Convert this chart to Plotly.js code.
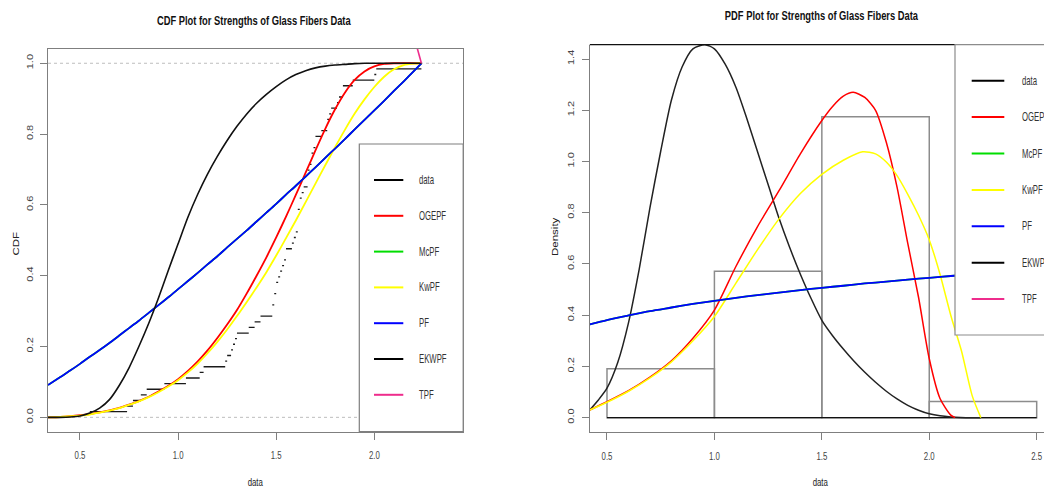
<!DOCTYPE html>
<html><head><meta charset="utf-8">
<script src="https://cdn.plot.ly/plotly-3.0.1.min.js"></script>
<style>html,body{margin:0;padding:0;background:#fff}#plot{width:1044px;height:489px}</style>
</head><body><div id="plot"></div>
<script>
// ---- data: strengths of 1.5 cm glass fibres (63 obs) ----
const fibers = [0.55,0.74,0.77,0.81,0.84,0.93,1.04,1.11,1.13,1.24,1.25,1.27,1.28,1.29,1.30,1.36,
  1.39,1.42,1.48,1.48,1.49,1.49,1.50,1.50,1.51,1.52,1.53,1.54,1.55,1.55,1.58,1.59,1.60,
  1.61,1.61,1.61,1.61,1.62,1.62,1.63,1.64,1.66,1.66,1.66,1.67,1.68,1.68,1.69,1.70,1.70,
  1.73,1.76,1.76,1.77,1.78,1.81,1.82,1.84,1.84,1.89,2.00,2.01,2.24];
const histBreaks = [0.5,1.0,1.5,2.0,2.5];

// ---- fitted CDFs ----
const cdfX = [0.337,0.4,0.45,0.5,0.55,0.6,0.65,0.7,0.75,0.8,0.85,0.9,0.95,1.0,1.05,1.1,1.15,1.2,1.25,1.3,
  1.35,1.4,1.45,1.5,1.55,1.6,1.65,1.7,1.75,1.8,1.85,1.9,1.95,2.0,2.05,2.1,2.15,2.2,2.24];
const cdfOGEPF = [0.0,0.001,0.003,0.006,0.009,0.014,0.02,0.027,0.036,0.046,0.058,0.073,0.089,0.108,0.131,0.158,
  0.189,0.224,0.262,0.303,0.35,0.4,0.452,0.508,0.567,0.628,0.691,0.754,0.815,0.87,0.917,0.953,0.977,0.991,
  0.998,1.0,1.0,1.0,1.0];
const cdfKwPF = [0.0,0.001,0.003,0.005,0.008,0.013,0.019,0.026,0.035,0.045,0.057,0.071,0.087,0.105,0.127,0.152,
  0.181,0.213,0.248,0.286,0.326,0.367,0.41,0.457,0.506,0.556,0.608,0.66,0.712,0.763,0.812,0.858,0.898,0.933,
  0.962,0.983,0.995,0.999,1.0];
const cdfPF = [0.091,0.114,0.132,0.151,0.171,0.190,0.210,0.231,0.252,0.273,0.295,0.317,0.339,0.362,0.385,0.408,
  0.432,0.455,0.480,0.504,0.528,0.553,0.578,0.603,0.629,0.654,0.680,0.706,0.733,0.759,0.786,0.813,0.840,0.867,
  0.894,0.922,0.949,0.977,1.0];
const cdfMcPF = cdfPF.slice();
const cdfEKWPF = [0.0,0.0,0.001,0.004,0.012,0.026,0.05,0.09,0.14,0.2,0.265,0.337,0.415,0.49,0.565,0.63,
  0.687,0.737,0.782,0.822,0.857,0.887,0.912,0.934,0.953,0.968,0.979,0.987,0.992,0.995,0.997,0.999,1.0,1.0,
  1.0,1.0,1.0,1.0,1.0];
const cdfTPFx = [2.205,2.24];
const cdfTPF = [1.07,1.0];

// ---- fitted PDFs ----
const pdfEKWPFx = [0.42,0.46,0.5,0.55,0.6,0.65,0.7,0.75,0.8,0.85,0.9,0.956,1.0,1.05,1.1,1.15,1.2,1.25,1.3,
  1.35,1.4,1.45,1.5,1.55,1.6,1.65,1.7,1.75,1.8,1.85,1.9,1.95,2.0,2.05,2.1,2.2,2.24];
const pdfEKWPF = [0.03,0.069,0.115,0.215,0.37,0.58,0.82,1.04,1.24,1.37,1.44,1.456,1.44,1.38,1.29,1.17,1.04,
  0.91,0.78,0.665,0.56,0.465,0.38,0.32,0.268,0.22,0.177,0.138,0.103,0.073,0.048,0.029,0.015,0.007,0.003,0.0,0.0];
const pdfOGEPFx = [0.42,0.5,0.6,0.7,0.8,0.9,1.0,1.1,1.2,1.3,1.4,1.5,1.55,1.6,1.646,1.7,1.75,1.8,1.85,1.9,
  1.95,2.0,2.05,2.1,2.12];
const pdfOGEPF = [0.03,0.062,0.105,0.158,0.222,0.31,0.42,0.59,0.745,0.885,1.03,1.16,1.215,1.255,1.27,1.25,1.2,
  1.075,0.9,0.68,0.47,0.23,0.075,0.01,0.0];
const pdfKwPFx = [0.42,0.5,0.6,0.7,0.8,0.9,1.0,1.1,1.2,1.3,1.4,1.5,1.6,1.69,1.75,1.8,1.85,1.9,1.95,2.0,2.05,
  2.1,2.15,2.2,2.24];
const pdfKwPF = [0.03,0.06,0.103,0.155,0.218,0.30,0.395,0.525,0.655,0.775,0.875,0.95,1.005,1.038,1.03,0.998,
  0.945,0.872,0.79,0.694,0.56,0.40,0.26,0.085,0.0];
const pdfPFx = [0.42,0.5,0.6,0.7,0.8,0.9,1.0,1.1,1.2,1.3,1.4,1.5,1.6,1.7,1.8,1.9,2.0,2.1,2.24];
const pdfPF = [0.364,0.381,0.399,0.416,0.430,0.444,0.456,0.468,0.478,0.488,0.498,0.507,0.515,0.524,0.531,
  0.539,0.546,0.553,0.5625];
const pdfMcPF = pdfPF.slice();

// ---- ticks / legend ----
const cdfXTicks = [0.5,1.0,1.5,2.0];
const cdfYTicks = [0.0,0.2,0.4,0.6,0.8,1.0];
const pdfXTicks = [0.5,1.0,1.5,2.0,2.5];
const pdfYTicks = [0.0,0.2,0.4,0.6,0.8,1.0,1.2,1.4];
const legendNames = ['data','OGEPF','McPF','KwPF','PF','EKWPF','TPF'];
const legendColors = ['#000000','#ff0000','#00dd00','#ffff00','#0000ff','#000000','#ee2c8c'];

// ---- build traces ----
const n = fibers.length;
const ex = [], ey = [];
for (let i = 0; i < n - 1; i++) {
  if (fibers[i+1] > fibers[i]) { ex.push(fibers[i], fibers[i+1], null); ey.push((i+1)/n, (i+1)/n, null); }
}
const counts = histBreaks.slice(0,-1).map((b,i) => fibers.filter(v => (i===0 ? v>=b : v>b) && v<=histBreaks[i+1]).length);
const dens = counts.map((c,i) => c/(n*(histBreaks[i+1]-histBreaks[i])));
const mids = histBreaks.slice(0,-1).map((b,i) => (b+histBreaks[i+1])/2);

function ln(x,y,color,w,ax,smooth){ return {type:'scatter',mode:'lines',x:x,y:y,xaxis:ax[0],yaxis:ax[1],
  line:{color:color,width:w,shape:smooth?'spline':'linear',smoothing:0.7},hoverinfo:'skip'}; }
const L = ['x','y'], R = ['x2','y2'];
const traces = [
  ln(ex, ey, '#1a1a1a', 1.3, L, false),
  ln(cdfX, cdfOGEPF, '#ff0000', 1.8, L, true),
  ln(cdfX, cdfMcPF, '#00dd00', 1.8, L, true),
  ln(cdfX, cdfKwPF, '#ffff00', 1.8, L, true),
  ln(cdfX, cdfPF, '#0000ff', 1.8, L, true),
  ln(cdfX, cdfEKWPF, '#111111', 1.6, L, true),
  ln(cdfTPFx, cdfTPF, '#ee2c8c', 1.6, L, false),
  {type:'bar', x:mids, y:dens, width:0.5, xaxis:'x2', yaxis:'y2', hoverinfo:'skip',
   marker:{color:'rgba(0,0,0,0)', line:{color:'#8c8c8c', width:1.5}}},
  ln([histBreaks[0], histBreaks[histBreaks.length-1]], [0,0], '#111111', 1.3, R, false),
  ln(pdfEKWPFx, pdfEKWPF, '#222222', 1.5, R, true),
  ln(pdfOGEPFx, pdfOGEPF, '#ff0000', 1.5, R, true),
  ln(pdfKwPFx, pdfKwPF, '#ffff00', 1.5, R, true),
  ln(pdfPFx, pdfMcPF, '#00dd00', 1.8, R, true),
  ln(pdfPFx, pdfPF, '#0000ff', 1.8, R, true)
];

// ---- layout ----
const W = 1044, H = 489;
const px = v => v / W, py = v => (H - v) / H;
const FONT = 'Liberation Sans, Arial, Helvetica, sans-serif';
const ax = {showgrid:false, zeroline:false, showline:true, linecolor:'#7f7f7f', linewidth:1.2,
  ticks:'outside', ticklen:7, tickcolor:'#7f7f7f', tickwidth:1, tickformat:'.1f', fixedrange:true,
  ticklabeloverflow:'allow', tickfont:{family:FONT, size:11.5, color:'#444'}};
const shapes = [
  {type:'line', xref:'x domain', x0:0, x1:1, yref:'y', y0:0, y1:0, layer:'below', line:{color:'#bdbdbd', width:1, dash:'3px,3px'}},
  {type:'line', xref:'x domain', x0:0, x1:1, yref:'y', y0:1, y1:1, layer:'below', line:{color:'#bdbdbd', width:1, dash:'3px,3px'}},
  {type:'line', xref:'paper', yref:'paper', x0:px(589.8), x1:1, y0:py(44.7), y1:py(44.7), line:{color:'#111', width:1.3}},
  {type:'rect', xref:'paper', yref:'paper', x0:px(359.3), x1:px(463.2), y0:py(431.5), y1:py(144), layer:'above',
   fillcolor:'#ffffff', line:{color:'#7f7f7f', width:1.2}},
  {type:'rect', xref:'paper', yref:'paper', x0:px(955), x1:1.05, y0:py(335), y1:py(44.7), layer:'above',
   fillcolor:'#ffffff', line:{color:'#8c8c8c', width:1.2}}
];
const annotations = [
  {text:'<b>CDF Plot for Strengths of Glass Fibers Data</b>', x:px(254), y:py(21), font:{family:FONT, size:13, color:'#111'}},
  {text:'<b>PDF Plot for Strengths of Glass Fibers Data</b>', x:px(821), y:py(16), font:{family:FONT, size:13, color:'#111'}},
  {text:'data', x:px(255), y:py(482)},
  {text:'data', x:px(820), y:py(482)},
  {text:'CDF', x:px(15.5), y:py(244), textangle:-90},
  {text:'Density', x:px(555), y:py(237), textangle:-90}
].map(a => Object.assign({xref:'paper', yref:'paper', showarrow:false, xanchor:'center', yanchor:'middle',
  font:{family:FONT, size:11.5, color:'#222'}}, a));

const legL = {lx0:374, lx1:403.3, tx:417.3, y0:180, dy:35.8};
const legR = {lx0:971.7, lx1:1004.3, tx:1020, y0:80.7, dy:36.4};
[legL, legR].forEach(g => {
  legendNames.forEach((nm, i) => {
    const yy = g.y0 + i * g.dy;
    shapes.push({type:'line', xref:'paper', yref:'paper', x0:px(g.lx0), x1:px(g.lx1), y0:py(yy), y1:py(yy),
      layer:'above', line:{color:legendColors[i], width:2}});
    annotations.push({text:nm, xref:'paper', yref:'paper', x:px(g.tx), y:py(yy), xanchor:'left', yanchor:'middle',
      showarrow:false, font:{family:FONT, size:12.5, color:'#333'}});
  });
});

const layout = {
  width:W, height:H, margin:{l:0, r:0, t:0, b:0}, paper_bgcolor:'#fff', plot_bgcolor:'#fff',
  showlegend:false, barmode:'overlay',
  xaxis: Object.assign({}, ax, {domain:[px(48), px(463.2)], range:[0.337, 2.453], tickvals:cdfXTicks,
    mirror:true, anchor:'y', ticklabelstandoff:6}),
  yaxis: Object.assign({}, ax, {domain:[(H-431.5)/H, (H-49.1)/H], range:[-0.04, 1.04], tickvals:cdfYTicks,
    tickangle:-90, mirror:true, anchor:'x', ticklabelstandoff:2, tickfont:{family:FONT, size:11, color:'#444'}}),
  xaxis2: Object.assign({}, ax, {domain:[px(589.8), 1], range:[0.42, 2.534], tickvals:pdfXTicks,
    anchor:'y2', ticklabelstandoff:6}),
  yaxis2: Object.assign({}, ax, {domain:[(H-432)/H, (H-44.7)/H], range:[-0.056, 1.456], tickvals:pdfYTicks,
    tickangle:-90, anchor:'x2', ticklabelstandoff:3, tickfont:{family:FONT, size:11, color:'#444'}}),
  shapes: shapes, annotations: annotations
};

// The reference's lettering is narrow: squeeze each text along its reading direction (or glyph height for rotated text)
function squeeze(el, sx, sy, leftAnchored) {
  const b = el.getBBox();
  const cx = leftAnchored ? b.x : b.x + b.width / 2;
  const cy = b.y + b.height / 2;
  const t = el.getAttribute('transform') || '';
  el.setAttribute('transform', (t + ' translate(' + cx + ',' + cy + ') scale(' + sx + ',' + sy + ') translate(' + (-cx) + ',' + (-cy) + ')').trim());
}
Plotly.newPlot('plot', traces, layout, {displayModeBar:false, staticPlot:true}).then(gd => {
  gd.querySelectorAll('.xtick text, .x2tick text').forEach(e => squeeze(e, 0.68, 1, false));
  gd.querySelectorAll('.ytick text, .y2tick text').forEach(e => squeeze(e, 1, 0.85, false));
  gd.querySelectorAll('.annotation').forEach((g, i) => {
    const t = g.querySelector('text.annotation-text');
    if (!t) return;
    if (i < 2) squeeze(t, 0.72, 1, false);
    else if (i < 4) squeeze(t, 0.68, 1, false);
    else if (i < 6) squeeze(t, 1, 0.8, false);
    else squeeze(t, 0.62, 1, true);
  });
});
</script></body></html>
